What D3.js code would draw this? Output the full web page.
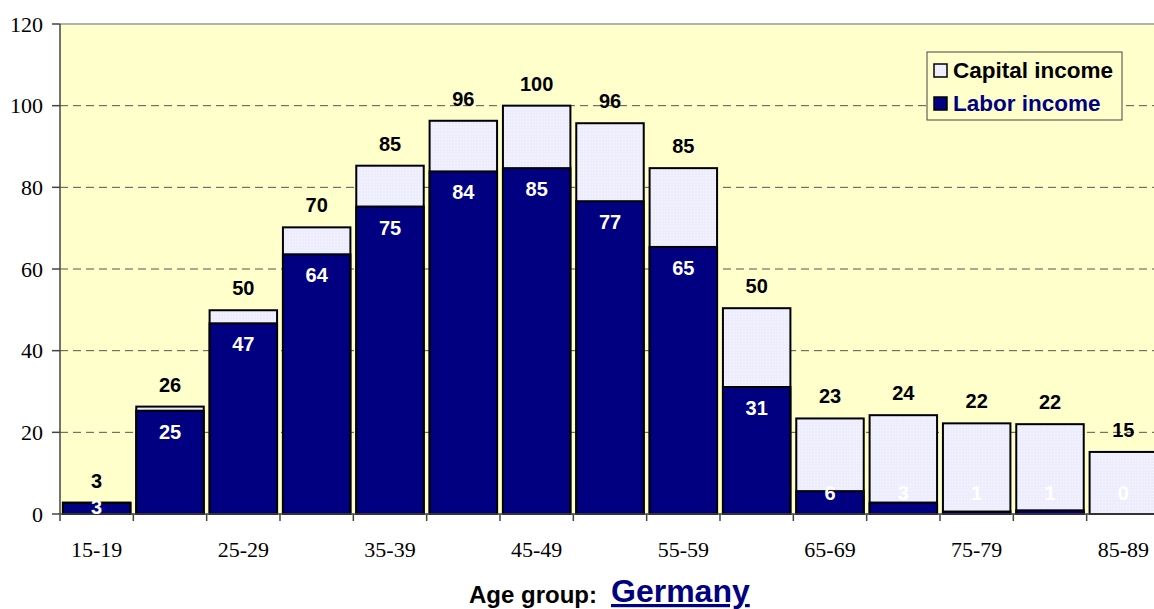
<!DOCTYPE html>
<html>
<head>
<meta charset="utf-8">
<script src="https://cdn.jsdelivr.net/npm/d3@7"></script>
<style>
  body { margin: 0; background: #fff; }
  svg { display: block; }
</style>
</head>
<body>
<svg width="1154" height="609"></svg>
<script>
var categories = ["15-19", "20-24", "25-29", "30-34", "35-39", "40-44", "45-49", "50-54",
                  "55-59", "60-64", "65-69", "70-74", "75-79", "80-84", "85-89"];
var labor   = [2.7, 25.3, 46.7, 63.6, 75.3, 83.9, 84.7, 76.6, 65.4, 31.1, 5.6, 2.8, 0.6, 0.9, 0];
var capital = [0.1, 1.0, 3.2, 6.6, 10.0, 12.4, 15.3, 19.1, 19.3, 19.3, 17.8, 21.4, 21.6, 21.1, 15.2];
var yTicks = [0, 20, 40, 60, 80, 100, 120];
var seriesNames = ["Capital income", "Labor income"];

var svg = d3.select("svg"),
    width = +svg.attr("width"),
    height = +svg.attr("height");

var plotLeft = 60, plotRight = 1160, plotTop = 24, plotBottom = 514;

var x = d3.scaleBand().domain(categories).range([plotLeft, plotRight])
    .paddingInner(0.08).paddingOuter(0.04);
var y = d3.scaleLinear().domain([0, 120]).range([plotBottom, plotTop]);

var laborColor = "#000080";

var defs = svg.append("defs");
var pat = defs.append("pattern")
    .attr("id", "dots")
    .attr("width", 3).attr("height", 3)
    .attr("patternUnits", "userSpaceOnUse");
pat.append("rect").attr("width", 3).attr("height", 3).attr("fill", "#EDEDFD");
pat.append("rect").attr("x", 1).attr("y", 1).attr("width", 1).attr("height", 1).attr("fill", "#F8F8FF");

// plot background
svg.append("rect")
    .attr("x", plotLeft).attr("y", plotTop)
    .attr("width", plotRight - plotLeft).attr("height", plotBottom - plotTop)
    .attr("fill", "#FFFFCC");

// gridlines
svg.selectAll(".grid")
    .data(yTicks.filter(function(d) { return d > 0 && d < 120; }))
    .enter().append("line")
    .attr("class", "grid")
    .attr("x1", plotLeft).attr("x2", plotRight)
    .attr("y1", function(d) { return y(d); })
    .attr("y2", function(d) { return y(d); })
    .attr("stroke", "#555")
    .attr("stroke-width", 1)
    .attr("stroke-dasharray", "8,5");

// top border
svg.append("line")
    .attr("x1", plotLeft).attr("x2", plotRight)
    .attr("y1", y(120)).attr("y2", y(120))
    .attr("stroke", "#999").attr("stroke-width", 1.5);

// bars
var rows = categories.map(function(c, i) {
    return { cat: c, labor: labor[i], capital: capital[i], total: labor[i] + capital[i] };
});

var g = svg.append("g");
g.selectAll(".cap")
    .data(rows)
    .enter().append("rect")
    .attr("class", "cap")
    .attr("x", function(d) { return x(d.cat); })
    .attr("width", x.bandwidth())
    .attr("y", function(d) { return y(d.total); })
    .attr("height", function(d) { return y(0) - y(d.total); })
    .attr("fill", "url(#dots)")
    .attr("stroke", "#000")
    .attr("stroke-width", 2);

g.selectAll(".lab")
    .data(rows.filter(function(d) { return d.labor > 0; }))
    .enter().append("rect")
    .attr("class", "lab")
    .attr("x", function(d) { return x(d.cat); })
    .attr("width", x.bandwidth())
    .attr("y", function(d) { return y(d.labor); })
    .attr("height", function(d) { return y(0) - y(d.labor); })
    .attr("fill", laborColor)
    .attr("stroke", "#000")
    .attr("stroke-width", 2);

// axes lines
svg.append("line")
    .attr("x1", plotLeft).attr("x2", plotRight)
    .attr("y1", plotBottom).attr("y2", plotBottom)
    .attr("stroke", "#444").attr("stroke-width", 1.5);
svg.append("line")
    .attr("x1", plotLeft).attr("x2", plotLeft)
    .attr("y1", plotTop).attr("y2", plotBottom)
    .attr("stroke", "#444").attr("stroke-width", 1.5);

// y ticks
svg.selectAll(".ytick")
    .data(yTicks)
    .enter().append("line")
    .attr("x1", plotLeft - 8).attr("x2", plotLeft)
    .attr("y1", function(d) { return y(d); })
    .attr("y2", function(d) { return y(d); })
    .attr("stroke", "#444").attr("stroke-width", 1.5);
svg.selectAll(".ylab")
    .data(yTicks)
    .enter().append("text")
    .attr("x", plotLeft - 17)
    .attr("y", function(d) { return y(d); })
    .attr("dy", "0.35em")
    .attr("text-anchor", "end")
    .attr("font-family", "Liberation Serif, Times New Roman, serif")
    .attr("font-size", 22)
    .attr("fill", "#000")
    .text(function(d) { return d; });

// x ticks at band boundaries
var step = x.step();
var bounds = d3.range(categories.length + 1).map(function(i) { return plotLeft + i * step; });
svg.selectAll(".xtick")
    .data(bounds)
    .enter().append("line")
    .attr("x1", function(d) { return d; }).attr("x2", function(d) { return d; })
    .attr("y1", plotBottom).attr("y2", plotBottom + 7)
    .attr("stroke", "#444").attr("stroke-width", 1.5);
svg.selectAll(".xlab")
    .data(categories.filter(function(d, i) { return i % 2 === 0; }))
    .enter().append("text")
    .attr("x", function(d) { return x(d) + x.bandwidth() / 2; })
    .attr("y", 549)
    .attr("dy", "0.35em")
    .attr("text-anchor", "middle")
    .attr("font-family", "Liberation Serif, Times New Roman, serif")
    .attr("font-size", 22)
    .attr("fill", "#000")
    .text(function(d) { return d; });

// total labels
svg.selectAll(".tot")
    .data(rows)
    .enter().append("text")
    .attr("x", function(d) { return x(d.cat) + x.bandwidth() / 2; })
    .attr("y", function(d) { return y(d.total) - 22; })
    .attr("dy", "0.35em")
    .attr("text-anchor", "middle")
    .attr("font-family", "Liberation Sans, Arial, sans-serif")
    .attr("font-weight", "bold")
    .attr("font-size", 20)
    .attr("fill", "#000")
    .text(function(d) { return Math.round(d.total); });

// labor labels: inside end; short segments get pushed up into the capital part
svg.selectAll(".labl")
    .data(rows)
    .enter().append("text")
    .attr("x", function(d) { return x(d.cat) + x.bandwidth() / 2; })
    .attr("y", function(d) {
        var t = y(d.labor), h = y(0) - t;
        if (h > 30) return t + 21;
        if (d.capital < 1) return t + 4;
        return 493;
    })
    .attr("dy", "0.35em")
    .attr("text-anchor", "middle")
    .attr("font-family", "Liberation Sans, Arial, sans-serif")
    .attr("font-weight", "bold")
    .attr("font-size", 20)
    .attr("fill", "#fff")
    .text(function(d) { return Math.round(d.labor); });

// legend
var lg = svg.append("g").attr("transform", "translate(927,52)");
lg.append("rect")
    .attr("width", 195).attr("height", 68)
    .attr("fill", "#FFFFCC")
    .attr("stroke", "#444").attr("stroke-width", 1);
var items = [
    { name: seriesNames[0], fill: "url(#dots)", color: "#000" },
    { name: seriesNames[1], fill: laborColor, color: laborColor }
];
var li = lg.selectAll(".li")
    .data(items)
    .enter().append("g")
    .attr("transform", function(d, i) { return "translate(0," + (18 + i * 33) + ")"; });
li.append("rect")
    .attr("x", 7).attr("y", -6)
    .attr("width", 13).attr("height", 13)
    .attr("fill", function(d) { return d.fill; })
    .attr("stroke", "#000").attr("stroke-width", 1.5);
li.append("text")
    .attr("x", 26).attr("y", 0)
    .attr("dy", "0.35em")
    .attr("font-family", "Liberation Sans, Arial, sans-serif")
    .attr("font-weight", "bold")
    .attr("font-size", 22.5)
    .attr("fill", function(d) { return d.color; })
    .text(function(d) { return d.name; });

// bottom title
svg.append("text")
    .attr("x", 597).attr("y", 603)
    .attr("text-anchor", "end")
    .attr("font-family", "Liberation Sans, Arial, sans-serif")
    .attr("font-weight", "bold")
    .attr("font-size", 24)
    .attr("fill", "#000")
    .text("Age group:");
svg.append("text")
    .attr("x", 611).attr("y", 602)
    .attr("font-family", "Liberation Sans, Arial, sans-serif")
    .attr("font-weight", "bold")
    .attr("font-size", 32)
    .attr("fill", laborColor)
    .attr("text-decoration", "underline")
    .text("Germany");
</script>
</body>
</html>
